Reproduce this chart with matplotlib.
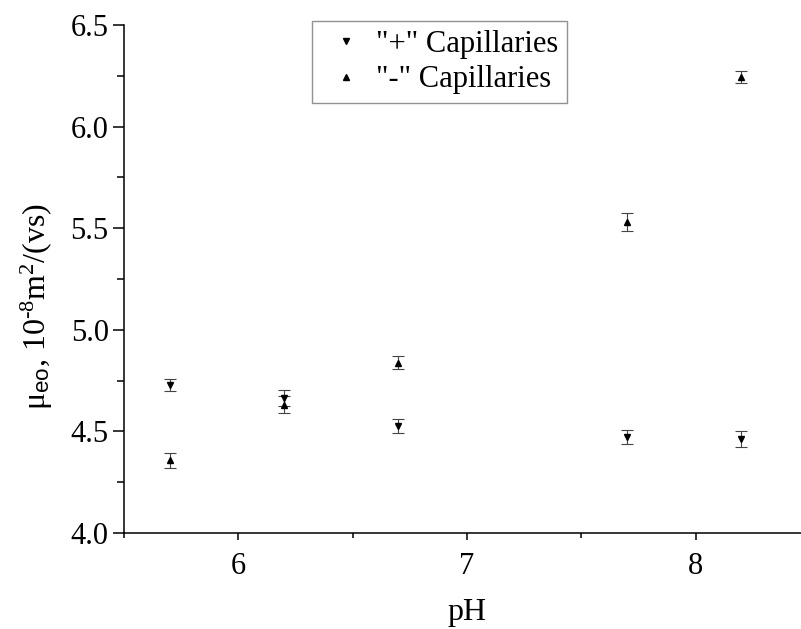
import matplotlib
matplotlib.use("Agg")
import matplotlib.pyplot as plt
from matplotlib.ticker import MultipleLocator

plt.rcParams['font.family'] = ['Liberation Serif', 'DejaVu Serif']
plt.rcParams['mathtext.fontset'] = 'custom'
plt.rcParams['mathtext.rm'] = 'Liberation Serif'
plt.rcParams['mathtext.it'] = 'Liberation Serif:italic'
plt.rcParams['mathtext.sf'] = 'Liberation Sans'

# Data
ph = [5.7, 6.2, 6.7, 7.7, 8.2]
plus_vals = [4.73, 4.665, 4.525, 4.473, 4.462]
plus_err = [0.03, 0.04, 0.035, 0.035, 0.038]
minus_vals = [4.358, 4.632, 4.837, 5.530, 6.246]
minus_err = [0.036, 0.04, 0.032, 0.044, 0.03]
series_labels = ['"+" Capillaries', '"-" Capillaries']
x_ticks = [6, 7, 8]
y_ticks = [4.0, 4.5, 5.0, 5.5, 6.0, 6.5]

fig = plt.figure(figsize=(8.01, 6.29), dpi=100)
W, H = 801, 629
ax = fig.add_axes([124 / W, (H - 533) / H, (810 - 124) / W, (533 - 25) / H])

ebkw = dict(linestyle='none', ecolor='#444444', elinewidth=0.8, capsize=4.5,
            capthick=0.8, markersize=5, color='black', mec='black')
h1 = ax.errorbar(ph, plus_vals, yerr=plus_err, marker='v', label=series_labels[0], **ebkw)
h2 = ax.errorbar(ph, minus_vals, yerr=minus_err, marker='^', label=series_labels[1], **ebkw)

ax.set_xlim(5.5, 8.5)
ax.set_ylim(4.0, 6.5)
ax.set_xticks(x_ticks)
ax.set_yticks(y_ticks)
ax.set_yticklabels([f"{v:.1f}" for v in y_ticks])
ax.xaxis.set_minor_locator(MultipleLocator(0.5))
ax.yaxis.set_minor_locator(MultipleLocator(0.25))

for s in ['top', 'right']:
    ax.spines[s].set_visible(False)
for s in ['left', 'bottom']:
    ax.spines[s].set_linewidth(1.1)

ax.tick_params(axis='both', which='major', direction='out', labelsize=22, width=1.1, colors='black')
ax.tick_params(axis='y', which='major', length=8, pad=3)
ax.tick_params(axis='y', which='minor', length=5, width=1.1, direction='out')
ax.tick_params(axis='x', which='major', length=5, pad=9)
ax.tick_params(axis='x', which='minor', length=3.5, width=1.1, direction='out')

ax.set_xlabel('pH', fontsize=23, labelpad=12)
ax.set_ylabel('μ$_{\\mathsf{eo}}$, 10$^{\\text{-}8}$m$^{2}$/(vs)', fontsize=23)
ax.yaxis.set_label_coords(-0.100, 0.445)

leg = ax.legend(handles=[h1[0], h2[0]], labels=series_labels,
                loc='upper left', bbox_to_anchor=(0.274, 1.008), borderaxespad=0,
                fontsize=22, frameon=True, fancybox=False, edgecolor='#777777',
                handlelength=1.65, handletextpad=0.13, borderpad=0.3, labelspacing=0.2,
                markerscale=1.0)
leg.get_frame().set_linewidth(1.0)

fig.savefig('out.png', dpi=100)
